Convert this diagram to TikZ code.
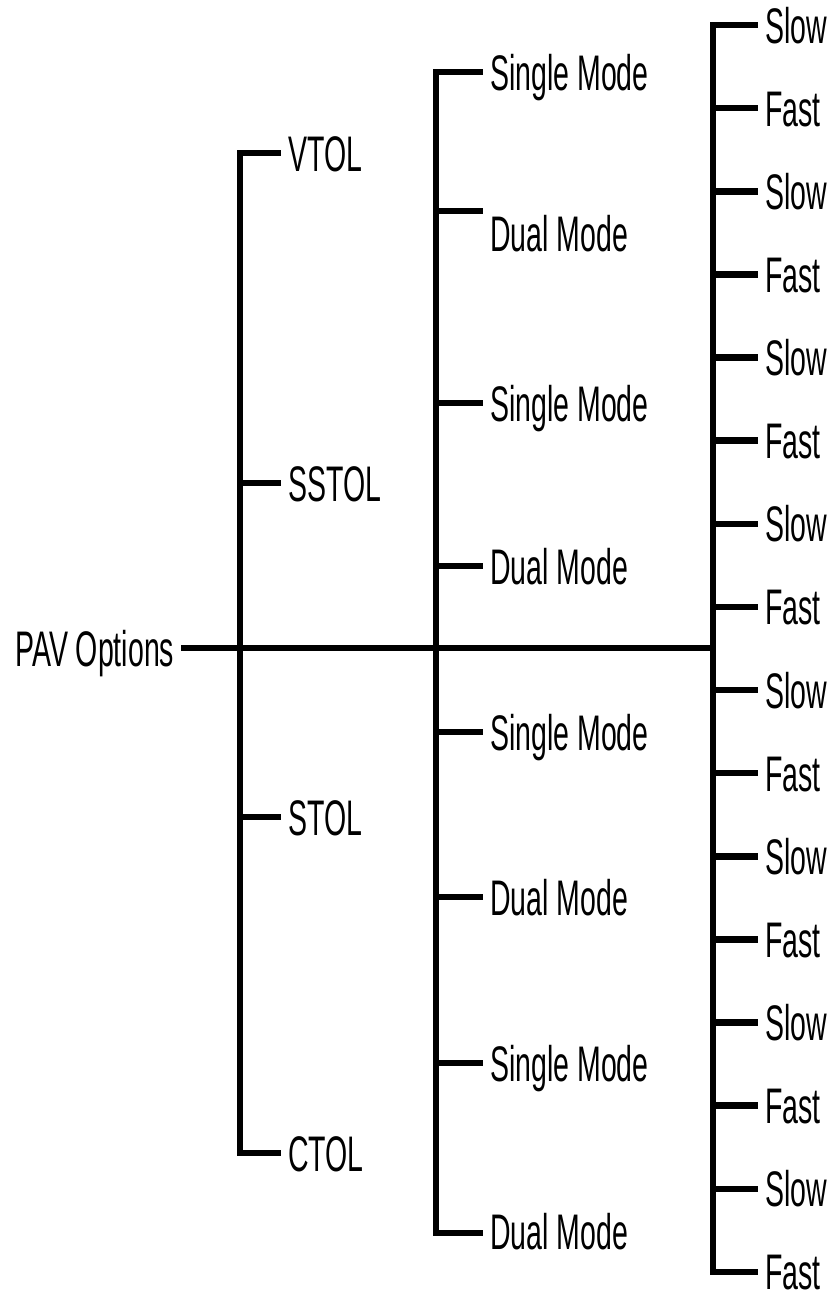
\documentclass[tikz,border=0pt]{standalone}
\usepackage{fontspec}
\setmainfont{Liberation Sans}[FakeStretch=0.57]
\begin{document}
\begin{tikzpicture}[x=1pt,y=-1pt,
  lbl/.style={anchor=west, inner xsep=7pt, inner ysep=0pt, text height=36pt, text depth=0pt, font=\fontsize{50}{54}\selectfont},
  vl/.style={line width=6.5pt, line cap=rect},
  br/.style={line width=6.5pt, line cap=butt}]
\useasboundingbox (0,0) rectangle (827,1302);
% root
\node[lbl] (pav) at (8,648) {PAV Options};
\coordinate (m3) at (713,648);
\draw[br] (pav.east) -- (m3);
% level 1
\foreach \n/\y/\t in {1/153/VTOL, 2/483/SSTOL, 3/817/STOL, 4/1153/CTOL}{
  \coordinate (a\n) at (240,\y);
  \node[lbl] (l\n) at (281,\y) {\t};
  \draw[br] (a\n) -- (l\n.west);
}
\draw[vl] (a1) -- (a4);
% level 2
\foreach \n/\y/\ty/\t in {1/72/72/Single Mode, 2/211/233/Dual Mode, 3/403/403/Single Mode, 4/566/566/Dual Mode, 5/732/732/Single Mode, 6/897/897/Dual Mode, 7/1063/1063/Single Mode, 8/1233/1231/Dual Mode}{
  \coordinate (b\n) at (436,\y);
  \node[lbl] (m\n) at (483,\ty) {\t};
  \draw[br] (b\n) -- (b\n -| m\n.west);
}
\draw[vl] (b1) -- (b8);
% level 3
\foreach \i in {0,...,15}{
  \pgfmathsetmacro\yy{25+83.13*\i}
  \ifodd\i \def\w{Fast}\else\def\w{Slow}\fi
  \coordinate (c\i) at (713,\yy);
  \node[lbl] (s\i) at (758,\yy) {\w};
  \draw[br] (c\i) -- (s\i.west);
}
\draw[vl] (c0) -- (c15);
\end{tikzpicture}
\end{document}
